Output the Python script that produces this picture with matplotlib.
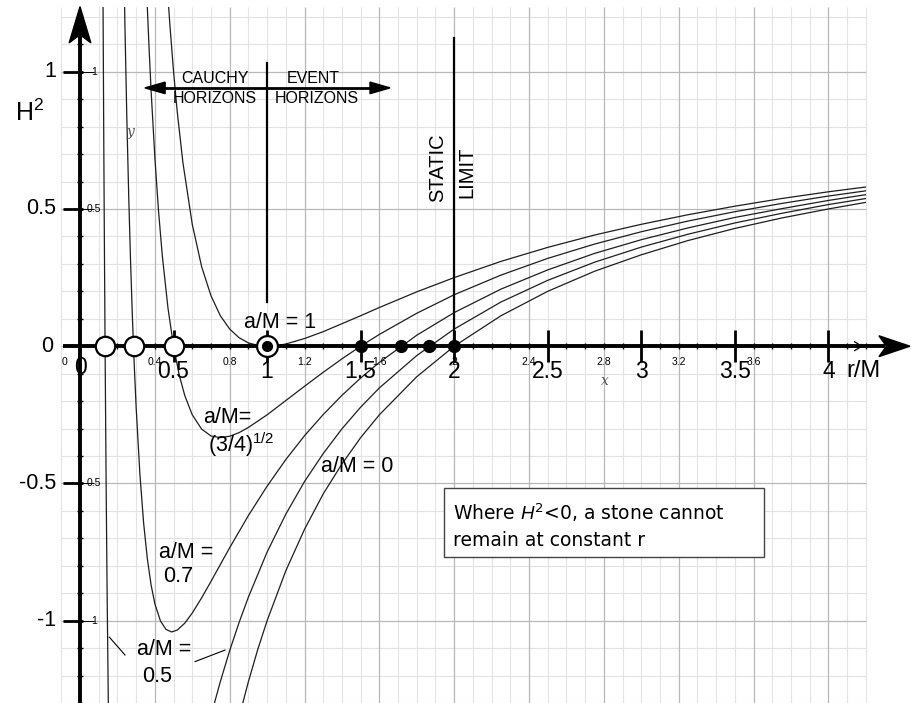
import numpy as np
import matplotlib
matplotlib.use("Agg")
import matplotlib.pyplot as plt
from matplotlib.patches import Polygon, Rectangle

plt.rcParams['font.family'] = ['Liberation Sans', 'DejaVu Sans']
plt.rcParams['mathtext.fontset'] = 'custom'
plt.rcParams['mathtext.rm'] = 'Liberation Sans'
plt.rcParams['mathtext.it'] = 'Liberation Sans:italic'

# valeurs : H^2 en fonction de r/M
r_a0 = [0.86, 0.9, 0.95, 1.0, 1.1, 1.2, 1.3, 1.4, 1.5, 1.6, 1.8, 2.0, 2.25, 2.5,
        2.75, 3.0, 3.25, 3.5, 3.75, 4.0, 4.2]
h_a0 = [-1.326, -1.222, -1.105, -1.0, -0.818, -0.667, -0.538, -0.429, -0.333, -0.25,
        -0.111, 0.0, 0.111, 0.2, 0.273, 0.333, 0.385, 0.429, 0.467, 0.5, 0.524]

r_a05_in = [0.12, 0.123, 0.127, 0.13, 0.134, 0.14, 0.145, 0.151, 0.153]
h_a05_in = [1.694, 1.265, 0.752, 0.408, -0.002, -0.531, -0.902, -1.280, -1.392]
r_a05 = [0.71, 0.75, 0.8, 0.85, 0.9, 1.0, 1.1, 1.2, 1.3, 1.4, 1.5, 1.6, 1.8, 2.0,
         2.25, 2.5, 2.75, 3.0, 3.25, 3.5, 3.75, 4.0, 4.2]
h_a05 = [-1.321, -1.222, -1.109, -1.007, -0.914, -0.75, -0.612, -0.493, -0.391, -0.301,
         -0.222, -0.152, -0.034, 0.0625, 0.161, 0.24, 0.306, 0.361, 0.408, 0.449,
         0.484, 0.516, 0.538]

r_a07 = [0.235, 0.24, 0.25, 0.26, 0.27, 0.28, 0.29, 0.30, 0.32, 0.34, 0.36, 0.38, 0.40,
         0.43, 0.46, 0.49, 0.52, 0.56, 0.60, 0.65, 0.70, 0.80, 0.90, 1.0, 1.1, 1.2,
         1.3, 1.4, 1.5, 1.6, 1.8, 2.0, 2.25, 2.5, 2.75, 3.0, 3.25, 3.5, 3.75, 4.0, 4.2]
h_a07 = [1.362, 1.174, 0.84, 0.556, 0.314, 0.107, -0.070, -0.222, -0.465, -0.644,
         -0.775, -0.870, -0.938, -1.001, -1.032, -1.041, -1.034, -1.009, -0.972,
         -0.917, -0.857, -0.734, -0.617, -0.51, -0.413, -0.326, -0.249, -0.179,
         -0.116, -0.059, 0.040, 0.1225, 0.208, 0.278, 0.338, 0.388, 0.431, 0.469,
         0.501, 0.531, 0.552]

r_a087 = [0.355, 0.36, 0.37, 0.38, 0.40, 0.42, 0.44, 0.47, 0.50, 0.53, 0.56, 0.60,
          0.65, 0.70, 0.75, 0.80, 0.85, 0.90, 1.0, 1.1, 1.2, 1.3, 1.4, 1.5, 1.6, 1.8,
          2.0, 2.25, 2.5, 2.75, 3.0, 3.25, 3.5, 3.75, 4.0, 4.2]
h_a087 = [1.317, 1.231, 1.073, 0.931, 0.688, 0.490, 0.329, 0.140, 0.0, -0.104, -0.180,
          -0.25, -0.302, -0.327, -0.333, -0.328, -0.315, -0.296, -0.25, -0.198,
          -0.146, -0.095, -0.046, 0.0, 0.043, 0.120, 0.1875, 0.259, 0.32, 0.372,
          0.417, 0.456, 0.490, 0.520, 0.547, 0.566]

r_a1 = [0.465, 0.48, 0.50, 0.52, 0.55, 0.60, 0.65, 0.70, 0.75, 0.80, 0.85, 0.90, 0.95,
        1.0, 1.05, 1.1, 1.2, 1.3, 1.4, 1.5, 1.6, 1.8, 2.0, 2.25, 2.5, 2.75, 3.0, 3.25,
        3.5, 3.75, 4.0, 4.2]
h_a1 = [1.324, 1.174, 1.0, 0.852, 0.669, 0.444, 0.290, 0.184, 0.111, 0.0625, 0.031,
        0.012, 0.003, 0.0, 0.002, 0.008, 0.028, 0.053, 0.082, 0.111, 0.141, 0.198,
        0.25, 0.309, 0.36, 0.405, 0.444, 0.479, 0.510, 0.538, 0.5625, 0.580]

# horizons
cauchy_r = [0.134, 0.286, 0.5]
event_r = [1.5, 1.714, 1.866, 2.0]
extremal_r = [1.0]

x_ticks = [0.5, 1, 1.5, 2, 2.5, 3, 3.5, 4]
x_labels = ['0.5', '1', '1.5', '2', '2.5', '3', '3.5', '4']
y_ticks = [1, 0.5, -0.5, -1]
y_labels = ['1', '0.5', '-0.5', '-1']
small_x = [0.4, 0.8, 1.2, 1.6, 2, 2.4, 2.8, 3.2, 3.6]
small_x_labels = ['0.4', '0.8', '1.2', '1.6', '2', '2.4', '2.8', '3.2', '3.6']
small_y = [1, 0.5, -0.5, -1]
small_y_labels = ['1', '0.5', '0.5', '1']

fig = plt.figure(figsize=(9.11, 7.03), dpi=100)
ax = fig.add_axes([0, 0, 1, 1])
ax.set_xlim(-0.4276, 4.4415)
ax.set_ylim(-1.2998, 1.2612)
ax.axis('off')

# grille
top = 1.235
gx = np.round(np.arange(-0.1, 4.2001, 0.1), 2)
gy = np.round(np.arange(-1.3, 1.2001, 0.1), 2)
maj_x = [x for x in gx if abs(x / 0.4 - round(x / 0.4)) < 1e-6]
min_x = [x for x in gx if x not in maj_x]
maj_y = [y for y in gy if abs(y / 0.5 - round(y / 0.5)) < 1e-6]
min_y = [y for y in gy if y not in maj_y]
ax.vlines(min_x, -1.31, top, color='#e3e3e3', lw=0.8, zorder=0)
ax.hlines(min_y, -0.1, 4.2, color='#e3e3e3', lw=0.8, zorder=0)
ax.vlines(maj_x, -1.31, top, color='#b8b8b8', lw=0.9, zorder=0)
ax.hlines(maj_y, -0.1, 4.2, color='#b8b8b8', lw=0.9, zorder=0)

# courbes
clip = Rectangle((-0.1, -1.31), 4.3, top + 1.31, transform=ax.transData,
                 fill=False, lw=0)
for r, h in [(r_a0, h_a0), (r_a05_in, h_a05_in), (r_a05, h_a05), (r_a07, h_a07),
             (r_a087, h_a087), (r_a1, h_a1)]:
    ln, = ax.plot(r, h, color='#1e1e1e', lw=0.9, zorder=2)
    ln.set_clip_path(clip)

# axes
ax.plot([0, 0], [-1.31, 1.14], color='k', lw=2.8, solid_capstyle='butt', zorder=3)
ax.add_patch(Polygon([[0, 1.237], [-0.058, 1.105], [0, 1.135], [0.058, 1.105]],
                     closed=True, fc='k', ec='k', zorder=3))
ax.plot([-0.09, 4.30], [0, 0], color='k', lw=2.8, solid_capstyle='butt', zorder=3)
ax.add_patch(Polygon([[4.436, 0], [4.27, 0.038], [4.31, 0], [4.27, -0.038]],
                     closed=True, fc='k', ec='k', zorder=3))
# petite flèche du grapheur sous-jacent
ax.plot([4.14, 4.18, 4.14], [0.016, 0.0, -0.016], color='k', lw=0.9, zorder=3)

# graduations
ax.vlines(x_ticks, -0.058, 0.059, color='k', lw=2, zorder=3)
ax.vlines([x for x in np.round(np.arange(0.1, 4.21, 0.1), 2) if x not in x_ticks],
          -0.012, 0.012, color='k', lw=1, zorder=3)
ax.hlines(y_ticks, -0.09, 0.015, color='k', lw=2, zorder=3)
ax.hlines([y for y in gy if y not in y_ticks and y != 0], -0.016, 0.016,
          color='k', lw=1, zorder=3)
ax.hlines(small_y, 0.0, 0.075, color='k', lw=0.7, zorder=3)

for x, s in zip(x_ticks, x_labels):
    ax.text(x, -0.092, s, fontsize=16.5, ha='center', va='center', zorder=4)
ax.text(0.0, -0.077, '0', fontsize=16.5, ha='center', va='center', zorder=4)
ax.text(4.19, -0.092, 'r/M', fontsize=17, ha='center', va='center', zorder=4)
for y, s in zip(y_ticks, y_labels):
    ax.text(-0.125, y, s, fontsize=15.5, ha='right', va='center', zorder=4)
ax.text(-0.145, 0.0, '0', fontsize=15.5, ha='right', va='center', zorder=4)
ax.text(-0.35, 0.85, r'H$^{\mathregular{2}}$', fontsize=18, ha='left', va='center')

for x, s in zip(small_x, small_x_labels):
    ax.text(x, -0.057, s, fontsize=7.5, ha='center', va='center', zorder=4)
ax.text(-0.085, -0.057, '0', fontsize=7.5, ha='center', va='center', zorder=4)
for y, s in zip(small_y, small_y_labels):
    ax.text(0.075, y, s, fontsize=7.5, ha='center', va='center', zorder=4)
ax.text(2.806, -0.125, 'x', fontsize=10, family='DejaVu Serif', style='italic',
        color='#555555', ha='center', va='center')
ax.text(0.267, 0.78, 'y', fontsize=10, family='DejaVu Serif', style='italic',
        color='#555555', ha='center', va='center')

# horizons marqués
ax.plot(cauchy_r, [0] * len(cauchy_r), 'o', ms=14, mfc='white', mec='k', mew=1.6,
        zorder=5)
ax.plot(event_r, [0] * len(event_r), 'o', ms=8.5, color='k', zorder=5)
ax.plot(extremal_r, [0], 'o', ms=15, mfc='white', mec='k', mew=1.6, zorder=5)
ax.plot(extremal_r, [0], 'o', ms=7, color='k', zorder=6)

# lignes verticales et flèche double
ax.plot([1, 1], [0.16, 1.031], color='k', lw=1.6, zorder=3)
ax.plot([2, 2], [0.0, 1.122], color='k', lw=1.6, zorder=3)
ax.plot([0.44, 1.57], [0.941, 0.941], color='k', lw=2, zorder=3)
ax.add_patch(Polygon([[0.347, 0.941], [0.455, 0.962], [0.455, 0.920]], closed=True,
                     fc='k', ec='k', zorder=3))
ax.add_patch(Polygon([[1.657, 0.941], [1.55, 0.962], [1.55, 0.920]], closed=True,
                     fc='k', ec='k', zorder=3))
ax.text(0.7215, 0.977, 'CAUCHY', fontsize=11.5, ha='center', va='center')
ax.text(0.7215, 0.904, 'HORIZONS', fontsize=11.5, ha='center', va='center')
ax.text(1.245, 0.977, 'EVENT', fontsize=11.5, ha='center', va='center')
ax.text(1.267, 0.904, 'HORIZONS', fontsize=11.5, ha='center', va='center')
ax.text(1.913, 0.649, 'STATIC', fontsize=14.5, rotation=90, ha='center', va='center')
ax.text(2.068, 0.635, 'LIMIT', fontsize=14.5, rotation=90, ha='center', va='center')

# étiquettes des courbes
ax.text(1.069, 0.088, 'a/M = 1', fontsize=15.5, ha='center', va='center', zorder=4)
ax.text(0.786, -0.258, 'a/M=', fontsize=15.5, ha='center', va='center')
ax.text(0.684, -0.36, r'(3/4)$^{\mathregular{1/2}}$', fontsize=15.5, ha='left',
        va='center')
ax.text(1.48, -0.44, 'a/M = 0', fontsize=15.5, ha='center', va='center')
ax.text(0.567, -0.75, 'a/M =', fontsize=15.5, ha='center', va='center')
ax.text(0.524, -0.84, '0.7', fontsize=15.5, ha='center', va='center')
ax.text(0.449, -1.106, 'a/M =', fontsize=15.5, ha='center', va='center')
ax.text(0.41, -1.205, '0.5', fontsize=15.5, ha='center', va='center')
ax.plot([0.157, 0.2405], [-1.060, -1.125], color='k', lw=0.8)
ax.plot([0.615, 0.775], [-1.149, -1.107], color='k', lw=0.8)

# encadré
ax.add_patch(Rectangle((1.945, -0.768), 1.711, 0.252, fc='white', ec='#444444',
                       lw=1, zorder=5))
ax.text(1.994, -0.608, r'Where $\mathit{H}^{\mathregular{2}}$<0, a stone cannot',
        fontsize=13.5, family='DejaVu Sans', ha='left', va='center', zorder=6)
ax.text(1.994, -0.706, 'remain at constant r', fontsize=13.5, family='DejaVu Sans',
        ha='left', va='center', zorder=6)

fig.savefig('out.png', dpi=100)
